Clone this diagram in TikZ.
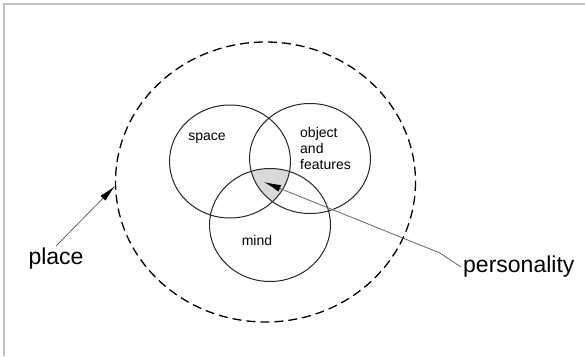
\documentclass[tikz,border=0pt]{standalone}
\usepackage{fontspec}
\setmainfont{Liberation Sans}
\usetikzlibrary{arrows.meta}

\begin{document}
\begin{tikzpicture}[
    x=1pt, y=-1pt,
    ring/.style={draw=black!85, line width=1pt},
    outer/.style={draw=black, line width=1.3pt, dash pattern=on 9pt off 5pt},
    lbl/.style={font=\fontsize{14}{16}\selectfont, inner sep=1pt},
    big/.style={font=\fontsize{23}{26}\selectfont, inner sep=2pt},
    ptr/.style={-{Latex[black, length=17pt, width=7pt]}, draw=black!60, line width=0.8pt}
  ]
    \useasboundingbox (0,0) rectangle (585,356);
    % frame (top and left edge only)
    \draw[black!25, line width=1.2pt] (585,4) -- (4,4) -- (4,356);

    % centres of the circles
    \coordinate (cPlace) at (265.5,182);
    \coordinate (cSpace) at (230,161.5);
    \coordinate (cObj) at (310,158.5);
    \coordinate (cMind) at (270,225);

    % shaded overlap of all three
    \begin{scope}
      \clip (cSpace) ellipse [x radius=60.5, y radius=56.5];
      \clip (cObj) ellipse [x radius=60.5, y radius=55];
      \fill[black!15] (cMind) ellipse [x radius=60.5, y radius=56.5];
    \end{scope}

    % circles
    \draw[outer] (cPlace) ellipse [x radius=150, y radius=140];
    \draw[ring] (cSpace) ellipse [x radius=60.5, y radius=56.5];
    \draw[ring] (cObj) ellipse [x radius=60.5, y radius=55];
    \draw[ring] (cMind) ellipse [x radius=60.5, y radius=56.5];

    % labels
    \node[lbl] (space) at (207,138) {space};
    \node[lbl, anchor=west, align=left] (obj) at (299,148) {object\\and\\features};
    \node[lbl] (mind) at (257,240) {mind};
    \node[big] (place) at (56,259) {place};
    \node[big, anchor=west] (pers) at (461,267) {personality};

    % pointers
    \coordinate (placeTip) at (115,186);
    \coordinate (persBend) at (440,253);
    \coordinate (persTip) at (264,182);
    \draw[ptr] (place.north) -- (placeTip);
    \draw[ptr] (pers.west) -- (persBend) -- (persTip);

  \end{tikzpicture}
\end{document}
